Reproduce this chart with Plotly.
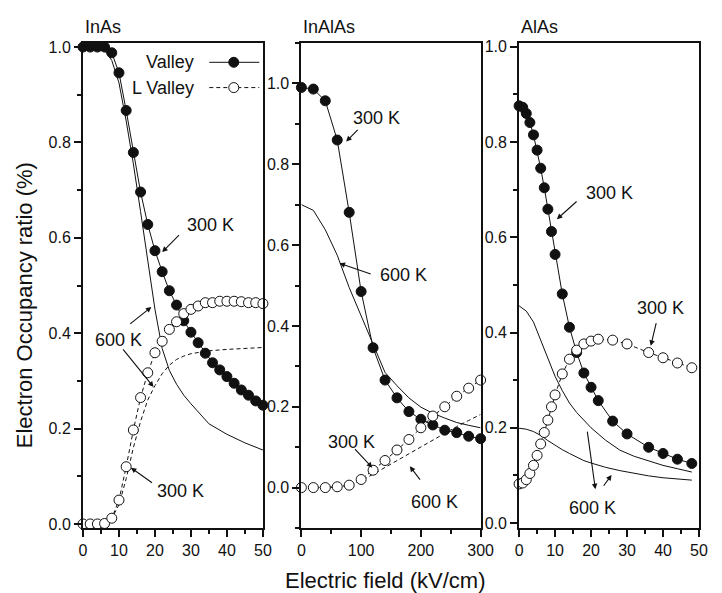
import plotly.graph_objects as go

# ---------------- data ----------------
# InAs (kV/cm 0-50)
inas_x300 = [0, 2, 4, 6, 8, 10, 12, 14, 16, 18, 20, 22, 24, 26, 28, 30, 32, 34, 36, 38, 40, 42, 44, 46, 48, 50]
inas_g300 = [1.0, 1.0, 1.0, 1.0, 0.988, 0.946, 0.867, 0.779, 0.696, 0.628, 0.573, 0.529, 0.489, 0.459, 0.426,
             0.402, 0.380, 0.358, 0.338, 0.323, 0.309, 0.295, 0.281, 0.270, 0.258, 0.249]
inas_l300 = [0.0, 0.0, 0.0, 0.001, 0.012, 0.05, 0.12, 0.197, 0.265, 0.317, 0.359, 0.383, 0.408, 0.424, 0.441,
             0.450, 0.457, 0.464, 0.464, 0.467, 0.467, 0.467, 0.466, 0.464, 0.464, 0.462]
inas_x600 = [0, 2, 4, 6, 8, 10, 12, 14, 16, 18, 20, 22, 24, 26, 28, 30, 35, 40, 45, 50]
inas_g600 = [1.0, 1.0, 0.998, 0.993, 0.972, 0.925, 0.845, 0.755, 0.655, 0.555, 0.45, 0.368, 0.322, 0.293,
             0.27, 0.252, 0.21, 0.188, 0.17, 0.155]
inas_l600 = [0.0, 0.0, 0.0, 0.002, 0.012, 0.04, 0.095, 0.16, 0.215, 0.26, 0.29, 0.315, 0.333, 0.345,
             0.352, 0.357, 0.363, 0.366, 0.368, 0.37]

# InAlAs (kV/cm 0-300)
inalas_x = [0, 20, 40, 60, 80, 100, 120, 140, 160, 180, 200, 220, 240, 260, 280, 300]
inalas_g300 = [0.99, 0.986, 0.957, 0.86, 0.681, 0.485, 0.346, 0.266, 0.222, 0.188, 0.169, 0.155, 0.142, 0.136, 0.127, 0.121]
inalas_l300 = [0.0, 0.0, 0.0, 0.002, 0.006, 0.02, 0.043, 0.067, 0.093, 0.119, 0.148, 0.177, 0.2, 0.226, 0.246, 0.266]
inalas_g600 = [0.70, 0.686, 0.638, 0.575, 0.495, 0.425, 0.352, 0.285, 0.252, 0.222, 0.199, 0.184, 0.172, 0.161, 0.154, 0.148]
inalas_l600 = [0.0, 0.0, 0.0, 0.001, 0.006, 0.017, 0.033, 0.05, 0.066, 0.083, 0.1, 0.118, 0.135, 0.151, 0.166, 0.181]

# AlAs (kV/cm 0-50)
alas_x300 = [0, 1, 2, 3, 4, 5, 6, 7, 8, 9, 10, 12, 14, 16, 18, 20, 22, 26, 30, 36, 40, 44, 48]
alas_g300 = [0.876, 0.873, 0.860, 0.841, 0.815, 0.783, 0.745, 0.704, 0.659, 0.612, 0.564, 0.481, 0.411, 0.358,
             0.315, 0.285, 0.257, 0.214, 0.187, 0.159, 0.146, 0.134, 0.125]
alas_l300 = [0.082, 0.084, 0.091, 0.104, 0.121, 0.142, 0.166, 0.19, 0.216, 0.244, 0.269, 0.313, 0.344, 0.363,
             0.376, 0.382, 0.386, 0.384, 0.376, 0.358, 0.347, 0.336, 0.326]
alas_x600 = [0, 2, 4, 6, 8, 10, 12, 14, 16, 18, 20, 24, 28, 32, 36, 40, 44, 48]
alas_g600 = [0.456, 0.445, 0.422, 0.385, 0.345, 0.308, 0.278, 0.252, 0.232, 0.215, 0.200, 0.174, 0.153, 0.140,
             0.130, 0.121, 0.114, 0.107]
alas_l600 = [0.199, 0.197, 0.192, 0.184, 0.173, 0.163, 0.154, 0.146, 0.138, 0.131, 0.126, 0.117, 0.110, 0.104,
             0.099, 0.095, 0.092, 0.090]

panel_titles = ["InAs", "InAlAs", "AlAs"]
legend_labels = ["Valley", "L Valley"]
x_title = "Electric field (kV/cm)"
y_title = "Electron Occupancy ratio (%)"

# ---------------- styling ----------------
FONT = "Liberation Sans, Arial, sans-serif"
BLACK = "#111111"
DASH = "4px,3px"

fig = go.Figure()


def add_panel(n, x300, g300, l300, x600, g600, l600, x600b=None, l600_dash=True):
    xa = "x" if n == 1 else f"x{n}"
    ya = "y" if n == 1 else f"y{n}"
    fig.add_trace(go.Scatter(x=x600, y=g600, mode="lines", line=dict(color=BLACK, width=1),
                             xaxis=xa, yaxis=ya, showlegend=False, hoverinfo="skip"))
    fig.add_trace(go.Scatter(x=x600b if x600b is not None else x600, y=l600, mode="lines",
                             line=dict(color=BLACK, width=1, dash=DASH if l600_dash else "solid"),
                             xaxis=xa, yaxis=ya, showlegend=False, hoverinfo="skip"))
    fig.add_trace(go.Scatter(x=x300, y=g300, mode="lines+markers", line=dict(color=BLACK, width=1),
                             marker=dict(size=10, color=BLACK, line=dict(color=BLACK, width=1)),
                             xaxis=xa, yaxis=ya, showlegend=False, cliponaxis=False, hoverinfo="skip"))
    fig.add_trace(go.Scatter(x=x300, y=l300, mode="lines+markers", line=dict(color=BLACK, width=1, dash=DASH),
                             marker=dict(size=10, color="white", line=dict(color=BLACK, width=1)),
                             xaxis=xa, yaxis=ya, showlegend=False, cliponaxis=False, hoverinfo="skip"))


add_panel(1, inas_x300, inas_g300, inas_l300, inas_x600, inas_g600, inas_l600)
add_panel(2, inalas_x, inalas_g300, inalas_l300, inalas_x, inalas_g600, inalas_l600)
add_panel(3, alas_x300, alas_g300, alas_l300, alas_x600, alas_g600, alas_l600, l600_dash=False)

# ---------------- axes ----------------
W, H = 722, 593
ML, MR, MT, MB = 83, 10, 43, 65
PW = W - ML - MR
doms = [[0.0, (266.7 - ML) / PW], [(306 - ML) / PW, (489 - ML) / PW], [(528.3 - ML) / PW, 1.0]]
xranges = [[0, 50], [0, 300], [0, 50]]
xdt = [10, 100, 10]
xminor = [5, 50, 5]
yranges = [[-0.0085, 1.0085], [-0.1, 1.1], [-0.0105, 1.008]]

tickfont = dict(family=FONT, size=16, color=BLACK)
layout_axes = {}
for i in range(3):
    n = i + 1
    sx = "" if n == 1 else str(n)
    xa_name, ya_name = f"xaxis{sx}", f"yaxis{sx}"
    xref_id, yref_id = f"x{sx}", f"y{sx}"
    layout_axes[xa_name] = dict(domain=doms[i], range=xranges[i], anchor=yref_id, showline=True, linewidth=2,
                                linecolor=BLACK, mirror=True, ticks="outside", ticklen=7, tickwidth=1.5,
                                tickcolor=BLACK, tick0=0, dtick=xdt[i], showgrid=False, zeroline=False,
                                tickfont=tickfont,
                                minor=dict(ticks="outside", ticklen=4, tickwidth=1.5, tickcolor=BLACK,
                                           dtick=xminor[i], showgrid=False))
    layout_axes[ya_name] = dict(domain=[0, 1], range=yranges[i], anchor=xref_id, showline=True, linewidth=2,
                                linecolor=BLACK, mirror=True, ticks="outside", ticklen=7, tickwidth=1.5,
                                tickcolor=BLACK, tick0=0, dtick=0.2, tickformat=".1f", showgrid=False,
                                zeroline=False, tickfont=tickfont,
                                minor=dict(ticks="outside", ticklen=4, tickwidth=1.5, tickcolor=BLACK,
                                           dtick=0.1, showgrid=False))
    # mirrored inside ticks (top & right)
    tx, ty = f"xaxis{n + 3}", f"yaxis{n + 3}"
    layout_axes[tx] = dict(domain=doms[i], range=xranges[i], overlaying=xref_id, anchor=yref_id, side="top",
                           showline=False, ticks="inside", ticklen=5, tickwidth=1.5, tickcolor=BLACK,
                           tick0=0, dtick=xminor[i], showticklabels=False, showgrid=False, zeroline=False)
    layout_axes[ty] = dict(domain=[0, 1], range=yranges[i], overlaying=yref_id, anchor=xref_id, side="right",
                           showline=False, ticks="inside", ticklen=7, tickwidth=1.5, tickcolor=BLACK,
                           tick0=0, dtick=0.2, showticklabels=False, showgrid=False, zeroline=False,
                           minor=dict(ticks="inside", ticklen=4, tickwidth=1.5, tickcolor=BLACK, dtick=0.1))

# ---------------- annotations ----------------
ann = []
lab = dict(family=FONT, size=18, color=BLACK)


def text(xr, yr, x, y, t, xanchor="center"):
    ann.append(dict(xref=xr, yref=yr, x=x, y=y, text=t, showarrow=False, font=lab,
                    xanchor=xanchor, yanchor="middle"))


def arrow(xr, yr, hx, hy, tx, ty):
    ann.append(dict(xref=xr, yref=yr, x=hx, y=hy, axref=xr, ayref=yr, ax=tx, ay=ty, text="",
                    showarrow=True, arrowhead=2, arrowsize=1, arrowwidth=1.1, arrowcolor=BLACK,
                    font=dict(size=1)))


# panel titles
for i, t in enumerate(panel_titles):
    sx = "" if i == 0 else str(i + 1)
    ann.append(dict(xref=f"x{sx} domain", yref="paper", x=0, y=1, yanchor="bottom", xanchor="left",
                    yshift=4, text=t, showarrow=False, font=lab))

# InAs
text("x", "y", 35.4, 0.626, "300 K")
arrow("x", "y", 22.0, 0.570, 27.1, 0.609)
text("x", "y", 10.0, 0.385, "600 K")
arrow("x", "y", 19.0, 0.455, 12.7, 0.417)
arrow("x", "y", 19.6, 0.287, 10.8, 0.369)
text("x", "y", 27.0, 0.069, "300 K")
arrow("x", "y", 13.3, 0.118, 19.6, 0.084)

# InAlAs
text("x2", "y2", 126.0, 0.914, "300 K")
arrow("x2", "y2", 74.9, 0.856, 96.7, 0.889)
text("x2", "y2", 171.3, 0.527, "600 K")
arrow("x2", "y2", 63.9, 0.555, 118.6, 0.527)
text("x2", "y2", 83.6, 0.114, "300 K")
arrow("x2", "y2", 118.6, 0.049, 87.4, 0.099)
text("x2", "y2", 223.0, -0.035, "600 K")
arrow("x2", "y2", 181.5, 0.053, 200.5, 0.016)

# AlAs
text("x3", "y3", 25.0, 0.692, "300 K")
arrow("x3", "y3", 10.5, 0.638, 16.4, 0.678)
text("x3", "y3", 39.4, 0.451, "300 K")
arrow("x3", "y3", 36.6, 0.372, 38.2, 0.423)
text("x3", "y3", 20.4, 0.031, "600 K")
arrow("x3", "y3", 21.2, 0.071, 18.9, 0.195)
arrow("x3", "y3", 25.7, 0.101, 23.2, 0.075)

# legend (inside InAs panel)
leg_y = [0.968, 0.915]
text("x", "y", 31.3, leg_y[0], legend_labels[0], xanchor="right")
text("x", "y", 31.3, leg_y[1], legend_labels[1], xanchor="right")
shapes = [
    dict(type="line", xref="x", yref="y", x0=35.1, x1=49.0, y0=leg_y[0], y1=leg_y[0],
         line=dict(color=BLACK, width=1)),
    dict(type="line", xref="x", yref="y", x0=35.1, x1=49.0, y0=leg_y[1], y1=leg_y[1],
         line=dict(color=BLACK, width=1, dash=DASH)),
    dict(type="circle", xref="x", yref="y", xsizemode="pixel", ysizemode="pixel", xanchor=41.9,
         yanchor=leg_y[0], x0=-5, x1=5, y0=-5, y1=5, fillcolor=BLACK, line=dict(color=BLACK, width=1)),
    dict(type="circle", xref="x", yref="y", xsizemode="pixel", ysizemode="pixel", xanchor=41.9,
         yanchor=leg_y[1], x0=-5, x1=5, y0=-5, y1=5, fillcolor="white", line=dict(color=BLACK, width=1)),
]

# axis titles
ann.append(dict(xref="paper", yref="paper", x=(391.7 - ML) / PW, y=-(580 - (H - MB)) / (H - MT - MB),
                text=x_title, showarrow=False, xanchor="center", yanchor="middle",
                font=dict(family=FONT, size=22, color=BLACK)))
ann.append(dict(xref="paper", yref="paper", x=(23 - ML) / PW, y=((H - MB) - 305) / (H - MT - MB),
                text=y_title, showarrow=False, xanchor="center", yanchor="middle", textangle=-90,
                font=dict(family=FONT, size=22, color=BLACK)))

fig.update_layout(width=W, height=H, margin=dict(l=ML, r=MR, t=MT, b=MB, pad=0),
                  paper_bgcolor="white", plot_bgcolor="white", showlegend=False,
                  font=dict(family=FONT, color=BLACK), annotations=ann, shapes=shapes,
                  **layout_axes)

fig.write_html("out.html")
